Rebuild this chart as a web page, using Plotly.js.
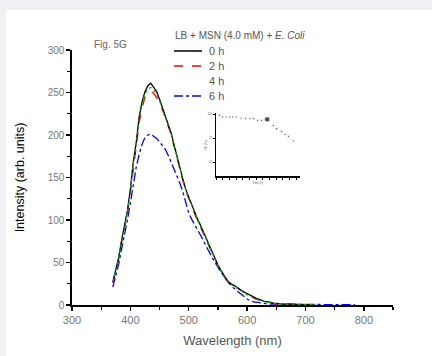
<!DOCTYPE html>
<html>
<head>
<meta charset="utf-8">
<script src="https://cdn.plot.ly/plotly-3.0.1.min.js"></script>
<style>
html,body{margin:0;padding:0;background:#eff1f4;width:432px;height:356px;overflow:hidden;}
#chart{position:absolute;left:6px;top:10px;width:426px;height:346px;background:#fff;}
</style>
</head>
<body>
<div id="chart"></div>
<script>
// Main spectra (wavelength nm, intensity arb. units)
const wl0 = [370,375,380,385,390,395,400,405,410,415,420,425,430,435,440,445,450,455,460,465,470,475,480,485,490,495,500,505,510,515,520,525,530,535,540,545,550,555,560,565,570,575,580,585,590,595,600,605,610,615,620,625,630,635,640,645,650,660,670,680,690,700,710];
const int0h = [27,41,56,76,92,111,136,168,191,221,239,251,258,261,256,251,242,233,222,212,202,188,174,160,148,136,127,118,109,101,94,86,78,70,62,54,47,41,35,30,26,24,23,20,17,15,13,11,9,8,7,5,4,4,3,2,2,1,1,1,0.5,0.5,0];
const wl2 = [370,375,380,385,390,395,400,405,410,415,420,425,430,435,440,445,450,455,460,465,470,475,480,485,490,495,500,505,510,515,520,525,530,535,540,545,550,555,560,565,570,575,580,585,590,595,600,605,610,615,620,625,630,635,640,645,650,660,670,680,690,700,710,720];
const int2h = [26,40,54,74,90,109,133,163,186,214,232,244,249,251,249,244,238,230,220,210,200,186,172,158,146,134,125,116,107,99,92,84,76,68,60,53,46,40,34,29,25,23,21,19,16,14,12,10,9,7,6,5,4,3,3,2,1,1,1,0.5,0.5,0.5,0,0];
const wl4 = [370,375,380,385,390,395,400,405,410,415,420,425,430,435,440,445,450,455,460,465,470,475,480,485,490,495,500,505,510,515,520,525,530,535,540,545,550,555,560,565,570,575,580,585,590,595,600,605,610,615,620,625,630,635,640,645,650,660,670,680,690,700,710,720];
const int4h = [27,40,55,75,91,110,134,166,189,218,236,248,254,256,253,248,240,231,221,211,201,187,173,159,147,135,126,117,108,100,93,85,77,69,61,53,46,40,34,30,26,23,22,19,16,14,12,10,9,7,6,5,4,3,3,2,2,1,1,1,0.5,0.5,0.5,0];
const wl6 = [370,375,380,385,390,395,400,405,410,415,420,425,430,435,440,445,450,455,460,465,470,475,480,485,490,495,500,505,510,515,520,525,530,535,540,545,550,555,560,565,570,575,580,585,590,595,600,605,610,615,620,625,630,635,640,645,650,660,670,680,690,700,720,740,760,785];
const int6h = [21,35,48,66,82,100,120,142,162,177,189,197,200,201,199,196,192,188,183,176,168,160,152,143,133,120,108,101,95,88,82,76,69,62,56,50,44,39,34,29,25,21,18,15,12,9,7,5,4,3,3,2,2,1,1,1,0.5,0.5,0.3,0.3,0.3,0.3,0.3,0.3,0.3,0.3];

// Inset (relative intensity vs time)
const insetX = [0.5,1.0,1.5,2.0,2.5,3.0,3.75,4.45,5.1,5.6,6.25,6.85,7.35,7.7,8.6,9.1,9.85,10.35,10.85,11.6];
const insetY = [99,97.2,97.2,97.2,97.2,97.2,96.1,95.5,95.5,95.5,93.8,93.8,94.5,94.8,88.5,85.1,82.3,78.9,77.1,72.2];

const legendLabels = ['0 h','2 h','4 h','6 h'];
const legendTitle = 'LB + MSN (4.0 mM) + <i>E. Coli</i>';

const FONT = 'Liberation Sans, Arial, sans-serif';
const traces = [
  {x: wl6, y: int6h, type:'scatter', mode:'lines', line:{color:'#0000ff', width:1.3, dash:'dashdot'}, xaxis:'x', yaxis:'y'},
  {x: wl2, y: int2h, type:'scatter', mode:'lines', line:{color:'#ff0000', width:1.3, dash:'dash'}, xaxis:'x', yaxis:'y'},
  {x: wl0, y: int0h, type:'scatter', mode:'lines', line:{color:'#000000', width:1.3}, xaxis:'x', yaxis:'y'},
  {x: wl4, y: int4h, type:'scatter', mode:'lines', line:{color:'#00b000', width:1.2, dash:'dot'}, xaxis:'x', yaxis:'y'},
  {x: insetX, y: insetY, type:'scatter', mode:'markers',
   marker:{color:'#000', symbol: insetX.map((_,i)=> i===13?'square':'circle'), size: insetX.map((_,i)=> i===13?5:2.2)},
   xaxis:'x2', yaxis:'y2'}
];

const W = 321, H = 255; // plot area px
const px2x = p => (p-72)/W;
const py2y = p => (305-p)/H;

const legendColors = ['#000000','#ff0000',null,'#0000ff'];
const legendDash = ['solid','dash','dot','dashdot'];
const shapes = [];
const annotations = [];
const legYs = [51,66,81,96];
legendLabels.forEach((lab,i)=>{
  if (legendColors[i]) {
    shapes.push({type:'line', xref:'paper', yref:'paper', x0:px2x(174), x1:px2x(202), y0:py2y(legYs[i]), y1:py2y(legYs[i]),
      line:{color:legendColors[i], width:1.5, dash:legendDash[i]}});
  }
  annotations.push({text:lab, xref:'paper', yref:'paper', x:px2x(207), y:py2y(legYs[i]), xanchor:'left', yanchor:'middle',
    showarrow:false, font:{family:FONT, size:11, color:'#555'}});
});
annotations.push({text:legendTitle, xref:'paper', yref:'paper', x:px2x(173), y:py2y(36), xanchor:'left', yanchor:'middle',
  showarrow:false, font:{family:FONT, size:10, color:'#555'}});
annotations.push({text:'Fig. 5G', xref:'paper', yref:'paper', x:px2x(92), y:py2y(44), xanchor:'left', yanchor:'middle',
  showarrow:false, font:{family:FONT, size:10, color:'#666'}});
annotations.push({text:'I/I0 (%)', xref:'paper', yref:'paper', x:px2x(206), y:py2y(145), xanchor:'center', yanchor:'middle', textangle:-90,
  showarrow:false, font:{family:FONT, size:3, color:'#666'}});
annotations.push({text:'Time (h)', xref:'paper', yref:'paper', x:px2x(258), y:py2y(183), xanchor:'center', yanchor:'middle',
  showarrow:false, font:{family:FONT, size:3, color:'#666'}});

const layout = {
  width:426, height:346,
  margin:{l:66, r:39, t:40, b:51},
  paper_bgcolor:'#ffffff', plot_bgcolor:'rgba(0,0,0,0)',
  showlegend:false,
  font:{family:FONT},
  xaxis:{range:[300,850], dtick:100, tick0:300, showgrid:false, zeroline:false, showline:true, linecolor:'#000', linewidth:1.6,
    ticks:'outside', ticklen:4, tickwidth:1.5, tickcolor:'#000',
    minor:{dtick:50, ticks:'outside', ticklen:3, tickwidth:1.2, tickcolor:'#000', showgrid:false},
    tickfont:{family:FONT, size:11, color:'#777'},
    title:{text:'Wavelength (nm)', font:{family:FONT, size:13, color:'#555'}, standoff:11}},
  yaxis:{range:[0,300], dtick:50, showgrid:false, zeroline:false, showline:true, linecolor:'#000', linewidth:1.6,
    ticks:'outside', ticklen:4, tickwidth:1.5, tickcolor:'#000',
    minor:{dtick:25, ticks:'outside', ticklen:3, tickwidth:1.2, tickcolor:'#000', showgrid:false},
    tickfont:{family:FONT, size:10, color:'#777'},
    title:{text:'Intensity (arb. units)', font:{family:FONT, size:12.5, color:'#000'}, standoff:20}},
  xaxis2:{domain:[px2x(216), px2x(300)], anchor:'y2', range:[0,12.6], dtick:1, showgrid:false, zeroline:false, showline:true,
    linecolor:'#000', linewidth:1.5, ticks:'outside', ticklen:2, tickwidth:1, tickcolor:'#000', showticklabels:false},
  yaxis2:{domain:[py2y(176), py2y(113)], anchor:'x2', range:[35.4,101.5], tickvals:[50,75,100], showgrid:false, zeroline:false, showline:true,
    linecolor:'#000', linewidth:1.5, ticks:'outside', ticklen:1.5, tickwidth:1, tickcolor:'#000',
    tickfont:{family:FONT, size:3, color:'#666'}},
  shapes:shapes,
  annotations:annotations
};
Plotly.newPlot('chart', traces, layout, {displayModeBar:false, staticPlot:true});
</script>
</body>
</html>
